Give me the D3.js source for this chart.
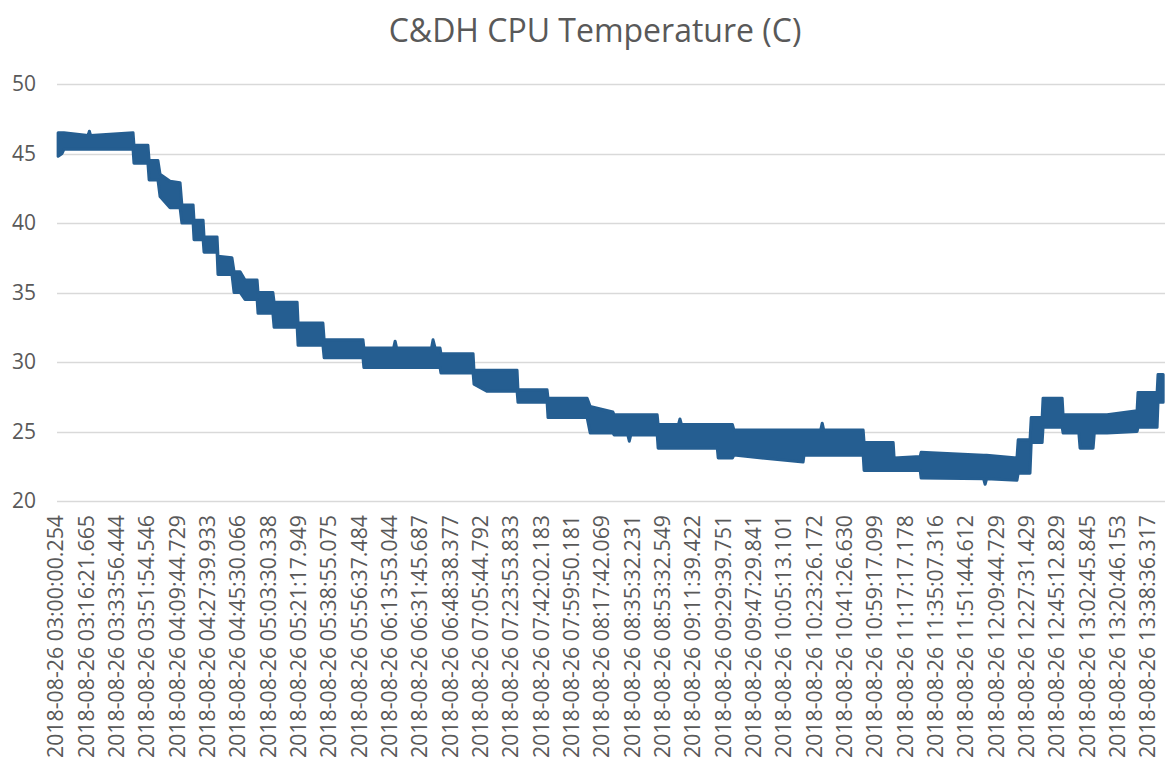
<!DOCTYPE html>
<html lang="en">
<head>
    <meta charset="UTF-8">
    <title>C&amp;DH CPU Temperature (C)</title>
    <script src="https://d3js.org/d3.v7.min.js"></script>
    <style>
        body { margin: 0; background: #fff; }
        svg { display: block; font-family: "Open Sans", sans-serif; }
        .tick-label { fill: #595959; font-size: 21px; }
        .title { fill: #595959; font-size: 32px; }
    </style>
</head>
<body>
<svg id="chart" width="1165" height="762"></svg>
<script>
    const categories = [
        "2018-08-26 03:00:00.254", "2018-08-26 03:16:21.665", "2018-08-26 03:33:56.444",
        "2018-08-26 03:51:54.546", "2018-08-26 04:09:44.729", "2018-08-26 04:27:39.933",
        "2018-08-26 04:45:30.066", "2018-08-26 05:03:30.338", "2018-08-26 05:21:17.949",
        "2018-08-26 05:38:55.075", "2018-08-26 05:56:37.484", "2018-08-26 06:13:53.044",
        "2018-08-26 06:31:45.687", "2018-08-26 06:48:38.377", "2018-08-26 07:05:44.792",
        "2018-08-26 07:23:53.833", "2018-08-26 07:42:02.183", "2018-08-26 07:59:50.181",
        "2018-08-26 08:17:42.069", "2018-08-26 08:35:32.231", "2018-08-26 08:53:32.549",
        "2018-08-26 09:11:39.422", "2018-08-26 09:29:39.751", "2018-08-26 09:47:29.841",
        "2018-08-26 10:05:13.101", "2018-08-26 10:23:26.172", "2018-08-26 10:41:26.630",
        "2018-08-26 10:59:17.099", "2018-08-26 11:17:17.178", "2018-08-26 11:35:07.316",
        "2018-08-26 11:51:44.612", "2018-08-26 12:09:44.729", "2018-08-26 12:27:31.429",
        "2018-08-26 12:45:12.829", "2018-08-26 13:02:45.845", "2018-08-26 13:20:46.153",
        "2018-08-26 13:38:36.317"
    ];
    const yTicks = [20, 25, 30, 35, 40, 45, 50];

    // position along the category axis (label index units), and the
    // high / low of the noisy temperature readings at that point
    const samplePos = [
        0.07, 0.20, 0.26, 1.06, 1.10, 1.14, 2.54, 2.57, 3.03, 3.07,
        3.36, 3.43, 3.76, 4.09, 4.15, 4.52, 4.55, 4.85, 4.88, 5.31,
        5.34, 5.80, 5.87, 6.07, 6.23, 6.63, 6.66, 7.15, 7.19, 7.95,
        7.98, 8.80, 8.84, 10.12, 10.15, 11.13, 11.18, 11.23, 12.38, 12.43,
        12.50, 12.66, 12.69, 13.75, 13.78, 14.20, 15.20, 15.23, 16.19, 16.22,
        17.51, 17.61, 18.36, 18.40, 18.85, 18.90, 18.95, 19.82, 19.85, 20.52,
        20.57, 20.62, 21.80, 21.83, 22.30, 22.35, 24.63, 24.66, 25.21, 25.26,
        25.31, 26.61, 26.64, 27.60, 27.63, 28.49, 28.52, 30.58, 30.63, 30.68,
        31.68, 31.72, 32.11, 32.15, 32.51, 32.54, 33.17, 33.20, 33.72, 33.76,
        34.19, 34.23, 34.65, 35.64, 35.67, 36.30, 36.33, 36.50
    ];
    const tempHigh = [
        46.5, 46.5, 46.5, 46.3, 46.6, 46.3, 46.5, 45.6, 45.6, 44.5,
        44.5, 43.5, 43.0, 42.9, 41.3, 41.3, 40.2, 40.2, 39.0, 39.0,
        37.6, 37.5, 36.5, 36.5, 35.9, 35.9, 35.0, 35.0, 34.3, 34.3,
        32.8, 32.8, 31.6, 31.6, 31.0, 31.0, 31.5, 31.0, 31.0, 31.6,
        31.0, 31.0, 30.6, 30.6, 29.4, 29.4, 29.4, 28.0, 28.0, 27.4,
        27.4, 26.8, 26.4, 26.2, 26.2, 26.2, 26.2, 26.2, 25.5, 25.5,
        25.9, 25.5, 25.5, 25.5, 25.5, 25.1, 25.1, 25.1, 25.1, 25.6,
        25.1, 25.1, 24.2, 24.2, 23.1, 23.2, 23.5, 23.3, 23.3, 23.3,
        23.1, 24.4, 24.4, 26.0, 26.0, 27.4, 27.4, 26.2, 26.2, 26.2,
        26.2, 26.2, 26.2, 26.5, 27.8, 27.8, 29.1, 29.1
    ];
    const tempLow = [
        44.8, 45.0, 45.3, 45.3, 45.3, 45.3, 45.3, 44.3, 44.3, 43.1,
        43.1, 41.9, 41.1, 41.1, 40.0, 40.0, 38.8, 38.8, 37.9, 37.9,
        36.3, 36.3, 35.0, 35.0, 34.5, 34.5, 33.5, 33.5, 32.5, 32.5,
        31.2, 31.2, 30.3, 30.3, 29.6, 29.6, 29.6, 29.6, 29.6, 29.6,
        29.6, 29.6, 29.2, 29.2, 28.4, 27.9, 27.9, 27.1, 27.1, 26.0,
        26.0, 24.9, 24.9, 24.75, 24.75, 24.3, 24.75, 24.75, 23.8, 23.8,
        23.8, 23.8, 23.8, 23.1, 23.1, 23.3, 22.8, 23.3, 23.3, 23.3,
        23.3, 23.3, 22.2, 22.2, 22.2, 22.2, 21.65, 21.6, 21.2, 21.6,
        21.5, 22.0, 22.0, 24.2, 24.2, 25.3, 25.3, 24.9, 24.9, 23.8,
        23.8, 24.9, 24.9, 25.0, 25.3, 25.3, 27.1, 27.1
    ];

    const svg = d3.select("#chart");
    const lineColor = "#255e91";

    const x = d3.scaleLinear()
        .domain([0, categories.length - 1])
        .range([56, 1148]);

    const y = d3.scaleLinear()
        .domain([20, 50])
        .range([501, 84]);

    // title
    svg.append("text")
        .attr("class", "title")
        .attr("x", 595)
        .attr("y", 42)
        .attr("text-anchor", "middle")
        .text("C&DH CPU Temperature (C)");

    // horizontal gridlines
    svg.append("g")
        .selectAll("line")
        .data(yTicks)
        .join("line")
        .attr("x1", 57)
        .attr("x2", 1165)
        .attr("y1", d => Math.round(y(d)) + 0.5)
        .attr("y2", d => Math.round(y(d)) + 0.5)
        .attr("stroke", "#d9d9d9")
        .attr("stroke-width", 1.5);

    // y axis labels
    svg.append("g")
        .selectAll("text")
        .data(yTicks)
        .join("text")
        .attr("class", "tick-label")
        .attr("x", 36)
        .attr("y", d => y(d))
        .attr("dy", "0.35em")
        .attr("text-anchor", "end")
        .text(d => d);

    // x axis labels (rotated)
    svg.append("g")
        .selectAll("text")
        .data(categories)
        .join("text")
        .attr("class", "tick-label")
        .attr("transform", (d, i) => `translate(${x(i)},515) rotate(-90)`)
        .attr("dy", "0.35em")
        .attr("text-anchor", "end")
        .attr("textLength", 243)
        .attr("lengthAdjust", "spacingAndGlyphs")
        .text(d => d);

    // the temperature trace: dense noisy samples drawn as a thick band
    const band = d3.area()
        .x(i => x(samplePos[i]))
        .y0(i => y(tempLow[i]))
        .y1(i => y(tempHigh[i]));

    svg.append("path")
        .datum(d3.range(samplePos.length))
        .attr("d", band)
        .attr("fill", lineColor)
        .attr("stroke", lineColor)
        .attr("stroke-width", 3)
        .attr("stroke-linejoin", "round");
</script>
</body>
</html>
